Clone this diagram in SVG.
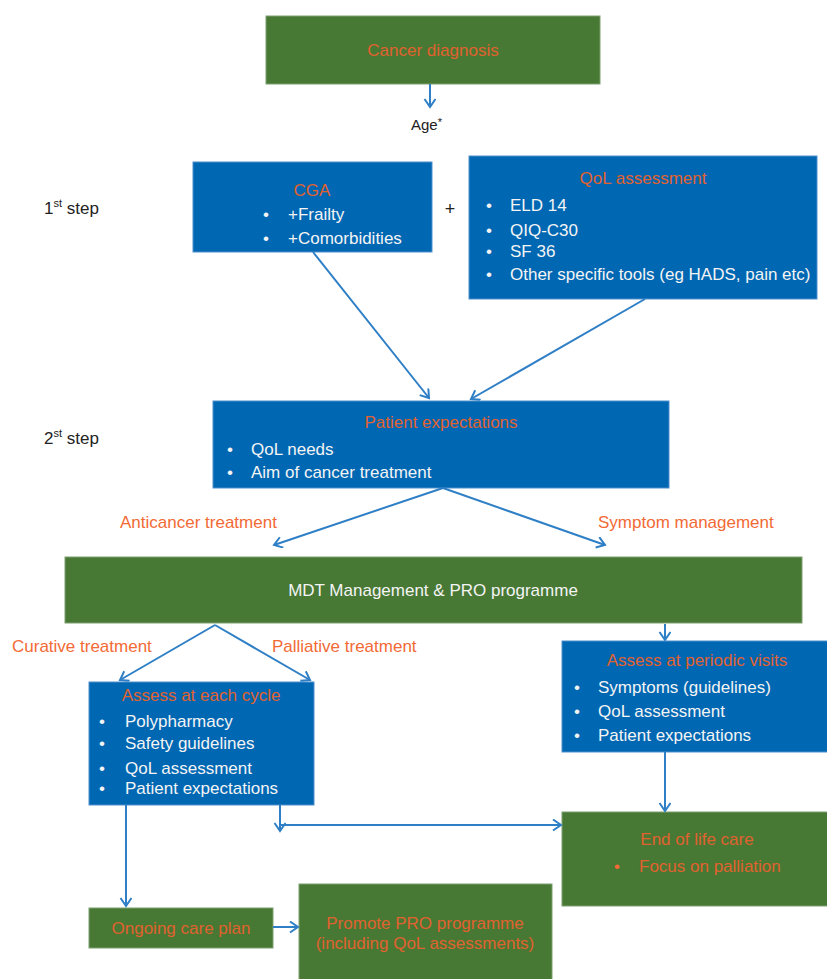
<svg xmlns="http://www.w3.org/2000/svg" width="827" height="979" viewBox="0 0 827 979">
<defs>
<marker id="ah" markerUnits="userSpaceOnUse" markerWidth="12" markerHeight="14" refX="9" refY="6" orient="auto">
<path d="M1,0.5 L9,6 L1,11.5" fill="none" stroke="#2f7fc6" stroke-width="2"/>
</marker>
<style>
.g{fill:#477834;stroke:#7fa070;stroke-width:1}
.b{fill:#0067b3;stroke:#4f8fcc;stroke-width:1}
text{font-family:"Liberation Sans",Arial,sans-serif;font-size:17px}
.t{fill:#e0622f;text-anchor:middle}
.w{fill:#f4f4f4}
.o{fill:#f26a35}
.k{fill:#222}
.c line,.c path{stroke:#2f7fc6;stroke-width:2;fill:none;marker-end:url(#ah)}
</style>
</defs>
<rect width="827" height="979" fill="#fff"/>
<g id="cancer-diagnosis"><rect class="g" x="266" y="16" width="334" height="68"/><text class="t" x="433" y="56">Cancer diagnosis</text></g>
<g id="age"><text class="k" x="411" y="130" style="font-size:15px">Age<tspan dy="-4" style="font-size:11px">*</tspan></text></g>
<g id="step1"><text class="k" x="44" y="214">1<tspan dy="-7" style="font-size:11px">st</tspan><tspan dy="7"> step</tspan></text></g>
<g id="step2"><text class="k" x="44" y="444">2<tspan dy="-7" style="font-size:11px">st</tspan><tspan dy="7"> step</tspan></text></g>
<g id="cga"><rect class="b" x="193" y="162" width="239" height="90"/>
<text class="t" x="312" y="196">CGA</text>
<text class="w" x="263" y="220">•</text><text class="w" x="288" y="220">+Frailty</text>
<text class="w" x="263" y="244">•</text><text class="w" x="288" y="244">+Comorbidities</text></g>
<g id="plus"><text class="k" x="450" y="215" text-anchor="middle" style="font-size:18px">+</text></g>
<g id="qol"><rect class="b" x="469" y="156" width="348" height="143"/>
<text class="t" x="643" y="184">QoL assessment</text>
<text class="w" x="486" y="211">•</text><text class="w" x="510" y="211">ELD 14</text>
<text class="w" x="486" y="236">•</text><text class="w" x="510" y="236">QIQ-C30</text>
<text class="w" x="486" y="257">•</text><text class="w" x="510" y="257">SF 36</text>
<text class="w" x="486" y="280">•</text><text class="w" x="510" y="280">Other specific tools (eg HADS, pain etc)</text></g>
<g id="patient-expectations"><rect class="b" x="213" y="401" width="456" height="87"/>
<text class="t" x="441" y="428">Patient expectations</text>
<text class="w" x="227" y="455">•</text><text class="w" x="251" y="455">QoL needs</text>
<text class="w" x="227" y="478">•</text><text class="w" x="251" y="478">Aim of cancer treatment</text></g>
<g id="mdt"><rect class="g" x="65" y="557" width="737" height="66"/><text class="w" x="433" y="596" text-anchor="middle">MDT Management &amp; PRO programme</text></g>
<g id="assess-cycle"><rect class="b" x="89" y="682" width="225" height="123"/>
<text class="t" x="201" y="701">Assess at each cycle</text>
<text class="w" x="99" y="727">•</text><text class="w" x="125" y="727">Polypharmacy</text>
<text class="w" x="99" y="749">•</text><text class="w" x="125" y="749">Safety guidelines</text>
<text class="w" x="99" y="774">•</text><text class="w" x="125" y="774">QoL assessment</text>
<text class="w" x="99" y="794">•</text><text class="w" x="125" y="794">Patient expectations</text></g>
<g id="assess-periodic"><rect class="b" x="562" y="641" width="270" height="111"/>
<text class="t" x="697" y="666">Assess at periodic visits</text>
<text class="w" x="574" y="693">•</text><text class="w" x="598" y="693">Symptoms (guidelines)</text>
<text class="w" x="574" y="717">•</text><text class="w" x="598" y="717">QoL assessment</text>
<text class="w" x="574" y="741">•</text><text class="w" x="598" y="741">Patient expectations</text></g>
<g id="end-of-life"><rect class="g" x="562" y="812" width="270" height="94"/>
<text class="t" x="697" y="845">End of life care</text>
<text class="o" x="614" y="872">•</text><text class="o" x="639" y="872" style="fill:#e0622f">Focus on palliation</text></g>
<g id="ongoing"><rect class="g" x="89" y="908" width="184" height="40"/><text class="t" x="181" y="934">Ongoing care plan</text></g>
<g id="promote"><rect class="g" x="299" y="884" width="253" height="100"/>
<text class="t" x="425" y="929">Promote PRO programme</text>
<text class="t" x="425" y="949">(including QoL assessments)</text></g>
<g id="labels">
<text class="o" x="120" y="528">Anticancer treatment</text>
<text class="o" x="598" y="528">Symptom management</text>
<text class="o" x="12" y="652">Curative treatment</text>
<text class="o" x="272" y="652">Palliative treatment</text>
</g>
<g id="connectors" class="c">
<line x1="430" y1="84" x2="430" y2="107"/>
<line x1="313" y1="252" x2="429" y2="398"/>
<line x1="645" y1="299" x2="471" y2="399"/>
<line x1="443" y1="488" x2="274" y2="545"/>
<line x1="443" y1="488" x2="605" y2="545"/>
<line x1="215" y1="625" x2="120" y2="680"/>
<line x1="215" y1="625" x2="310" y2="680"/>
<line x1="665" y1="624" x2="665" y2="640"/>
<line x1="126" y1="805" x2="126" y2="906"/>
<line x1="280" y1="805" x2="280" y2="831"/>
<line x1="281" y1="825" x2="561" y2="825"/>
<line x1="665" y1="752" x2="665" y2="811"/>
<line x1="273" y1="927" x2="298" y2="927"/>
</g>
</svg>
